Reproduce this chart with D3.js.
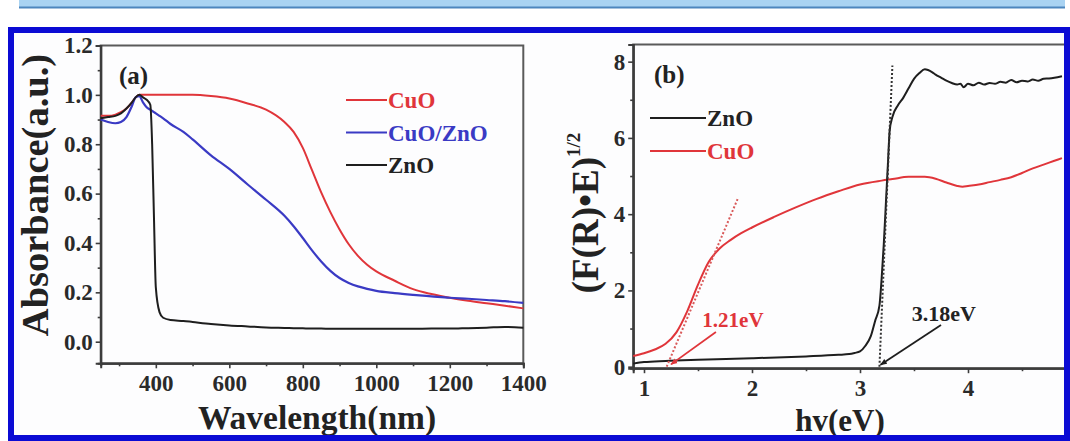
<!DOCTYPE html>
<html>
<head>
<meta charset="utf-8">
<script src="https://cdn.jsdelivr.net/npm/d3@7"></script>
<style>
  html, body { margin: 0; padding: 0; background: #ffffff; }
  svg { display: block; }
  text { font-family: "Liberation Serif", "Times New Roman", serif; font-weight: bold; }
</style>
</head>
<body>
<svg id="fig" width="1070" height="441"></svg>
<script>
// ---------- Panel (a): UV-vis absorbance ----------
const wavelength = [250, 270, 290, 305, 320, 335, 345, 355, 365, 375, 385, 390, 395, 400, 410, 420, 440, 475, 500, 550, 600, 650, 700, 750, 775, 800, 825, 850, 875, 900, 925, 950, 975, 1000, 1050, 1100, 1150, 1200, 1250, 1300, 1350, 1400];
const absCuO = [0.915, 0.915, 0.92, 0.93, 0.945, 0.97, 0.99, 1.0, 1.0, 1.0, 1.0, 1.0, 1.0, 1.0, 1.0, 1.0, 1.0, 1.0, 1.0, 0.995, 0.985, 0.965, 0.94, 0.89, 0.85, 0.785, 0.695, 0.605, 0.525, 0.455, 0.395, 0.348, 0.312, 0.285, 0.247, 0.213, 0.193, 0.178, 0.166, 0.156, 0.146, 0.135];
const absCuOZnO = [0.9, 0.89, 0.885, 0.89, 0.91, 0.955, 0.99, 0.995, 0.97, 0.95, 0.94, 0.935, 0.93, 0.925, 0.915, 0.905, 0.882, 0.85, 0.82, 0.755, 0.7, 0.637, 0.575, 0.51, 0.468, 0.42, 0.37, 0.325, 0.287, 0.258, 0.238, 0.224, 0.214, 0.206, 0.197, 0.19, 0.184, 0.178, 0.174, 0.169, 0.164, 0.157];
const absZnO = [0.905, 0.91, 0.915, 0.925, 0.945, 0.97, 0.99, 1.0, 0.99, 0.98, 0.96, 0.8, 0.5, 0.22, 0.12, 0.097, 0.088, 0.084, 0.08, 0.072, 0.066, 0.062, 0.058, 0.056, 0.055, 0.054, 0.053, 0.053, 0.052, 0.052, 0.052, 0.052, 0.052, 0.052, 0.052, 0.052, 0.053, 0.053, 0.055, 0.057, 0.06, 0.057];
const ticksA_x = [400, 600, 800, 1000, 1200, 1400];
const minorA_x = [300, 500, 700, 900, 1100, 1300];
const ticksA_y = [0.0, 0.2, 0.4, 0.6, 0.8, 1.0, 1.2];
const minorA_y = [0.1, 0.3, 0.5, 0.7, 0.9, 1.1];
const legendA = ["CuO", "CuO/ZnO", "ZnO"];

// ---------- Panel (b): Kubelka-Munk plot ----------
const energyZnO = [0.9, 1.0, 1.2, 1.5, 2.0, 2.5, 2.8, 2.9, 2.95, 3.0, 3.05, 3.1, 3.14, 3.18, 3.2, 3.22, 3.24, 3.26, 3.275, 3.3, 3.35, 3.4, 3.45, 3.5, 3.55, 3.6, 3.63, 3.67, 3.7, 3.75, 3.8, 3.85, 3.9, 3.93, 3.96, 4.0, 4.05, 4.1, 4.15, 4.2, 4.25, 4.3, 4.35, 4.4, 4.45, 4.5, 4.55, 4.6, 4.65, 4.7, 4.75, 4.8, 4.87];
const kmZnO = [0.08, 0.12, 0.15, 0.18, 0.22, 0.27, 0.31, 0.33, 0.36, 0.4, 0.55, 0.8, 1.2, 1.6, 2.3, 3.2, 4.3, 5.4, 6.2, 6.55, 6.85, 7.05, 7.3, 7.55, 7.7, 7.8, 7.78, 7.72, 7.66, 7.58, 7.5, 7.44, 7.4, 7.42, 7.33, 7.42, 7.38, 7.45, 7.4, 7.44, 7.42, 7.47, 7.45, 7.52, 7.46, 7.5, 7.48, 7.53, 7.5, 7.55, 7.56, 7.58, 7.62];
const energyCuO = [0.9, 1.0, 1.1, 1.2, 1.3, 1.4, 1.5, 1.6, 1.7, 1.8, 1.9, 2.0, 2.2, 2.4, 2.6, 2.8, 3.0, 3.2, 3.3, 3.45, 3.6, 3.7, 3.8, 3.9, 3.95, 4.0, 4.1, 4.2, 4.3, 4.4, 4.5, 4.6, 4.7, 4.8, 4.87];
const kmCuO = [0.28, 0.35, 0.45, 0.6, 0.9, 1.45, 2.15, 2.75, 3.1, 3.32, 3.5, 3.65, 3.92, 4.17, 4.4, 4.6, 4.78, 4.88, 4.92, 4.98, 4.98, 4.93, 4.83, 4.74, 4.72, 4.74, 4.78, 4.84, 4.9, 4.97, 5.08, 5.2, 5.3, 5.4, 5.47];
const gapCuO = 1.21;   // eV
const gapZnO = 3.18;   // eV
const tangentCuOEnd = [1.87, 4.42];
const tangentZnOEnd = [3.30, 7.9];
const ticksB_x = [1, 2, 3, 4];
const minorB_x = [1.5, 2.5, 3.5, 4.5];
const ticksB_y = [0, 2, 4, 6, 8];
const minorB_y = [1, 3, 5, 7];
const legendB = ["ZnO", "CuO"];

const RED = "#e0353a", BLUE = "#3a3ac4", BLACK = "#1e1e1e", AXIS = "#3c3c3c";

const svg = d3.select("#fig");

// page decoration: banner strip and frame background
svg.append("rect").attr("x", 19).attr("y", 0).attr("width", 1046).attr("height", 7).attr("fill", "#a9d3f2");
svg.append("line").attr("x1", 19).attr("x2", 1065).attr("y1", 7.5).attr("y2", 7.5).attr("stroke", "#4d86bd").attr("stroke-width", 2);
svg.append("rect").attr("x", 11).attr("y", 30).attr("width", 1056).attr("height", 408).attr("fill", "#fdfdfe");

const defs = svg.append("defs");
function marker(id, color) {
  defs.append("marker").attr("id", id).attr("viewBox", "0 0 10 10").attr("refX", 9).attr("refY", 5)
    .attr("markerWidth", 7).attr("markerHeight", 7).attr("orient", "auto-start-reverse")
    .attr("markerUnits", "userSpaceOnUse")
    .append("path").attr("d", "M0,1 L10,5 L0,9 Z").attr("fill", color);
}
marker("arrRed", RED);
marker("arrBlack", BLACK);
defs.append("clipPath").attr("id", "clipA").append("rect").attr("x", 100).attr("y", 45).attr("width", 424).attr("height", 319);
defs.append("clipPath").attr("id", "clipB").append("rect").attr("x", 633).attr("y", 44).attr("width", 432).attr("height", 325);

function drawAxes(g, x, y, xt, xm, yt, ym, xfmt, yfmt) {
  const [x0, x1] = x.range(), [y0, y1] = y.range();
  g.append("rect").attr("x", x0).attr("y", y1).attr("width", x1 - x0).attr("height", y0 - y1)
    .attr("fill", "none").attr("stroke", "#5a5a5a").attr("stroke-width", 2);
  g.append("g").attr("transform", `translate(0,${y0})`)
    .call(d3.axisBottom(x).tickValues(xt).tickSize(5).tickPadding(6).tickFormat(xfmt));
  g.append("g").attr("transform", `translate(0,${y0})`)
    .call(d3.axisBottom(x).tickValues(xm).tickSize(3).tickFormat(""));
  g.append("g").attr("transform", `translate(${x0},0)`)
    .call(d3.axisLeft(y).tickValues(yt).tickSize(5).tickPadding(3).tickFormat(yfmt));
  g.append("g").attr("transform", `translate(${x0},0)`)
    .call(d3.axisLeft(y).tickValues(ym).tickSize(3).tickFormat(""));
  g.selectAll(".domain").attr("stroke", AXIS).attr("stroke-width", 2);
  g.selectAll(".tick line").attr("stroke", AXIS).attr("stroke-width", 1.6);
  g.selectAll(".tick text").attr("font-family", "Liberation Serif").attr("font-weight", "bold")
    .attr("font-size", 23).attr("fill", "#2a2a2a");
}

// ---------- Panel (a) ----------
const xA = d3.scaleLinear([250, 1400], [100.7, 523.3]);
const yA = d3.scaleLinear([-0.0875, 1.2], [363.3, 45.5]);
const gA = svg.append("g");
drawAxes(gA, xA, yA, ticksA_x, minorA_x, ticksA_y, minorA_y, d3.format("d"), d3.format(".1f"));

const lineA = vals => d3.line().x((d, i) => xA(wavelength[i])).y(d => yA(d)).curve(d3.curveMonotoneX)(vals);
const curvesA = gA.append("g").attr("clip-path", "url(#clipA)");
curvesA.append("path").attr("d", lineA(absCuO)).attr("fill", "none").attr("stroke", RED).attr("stroke-width", 2);
curvesA.append("path").attr("d", lineA(absCuOZnO)).attr("fill", "none").attr("stroke", BLUE).attr("stroke-width", 2.2);
curvesA.append("path").attr("d", lineA(absZnO)).attr("fill", "none").attr("stroke", BLACK).attr("stroke-width", 2);

gA.append("text").attr("x", 119).attr("y", 84).attr("font-size", 25).attr("fill", "#222").text("(a)");
const colorsA = [RED, BLUE, BLACK];
legendA.forEach((name, i) => {
  const yy = 100 + i * 32.5;
  gA.append("line").attr("x1", 346).attr("x2", 387).attr("y1", yy).attr("y2", yy).attr("stroke", colorsA[i]).attr("stroke-width", 2);
  gA.append("text").attr("x", 388).attr("y", yy + 8).attr("font-size", 23).attr("fill", colorsA[i] === BLACK ? "#222" : colorsA[i]).text(name);
});
gA.append("text").attr("transform", "translate(48,195) rotate(-90)").attr("text-anchor", "middle")
  .attr("font-size", 38.5).attr("fill", "#222").text("Absorbance(a.u.)");
gA.append("text").attr("x", 317).attr("y", 429).attr("text-anchor", "middle")
  .attr("font-size", 33.5).attr("fill", "#222").text("Wavelength(nm)");

// ---------- Panel (b) ----------
const xB = d3.scaleLinear([0.9, 4.9], [633.2, 1065.2]);
const yB = d3.scaleLinear([-0.04, 8.45], [368.2, 44.5]);
const gB = svg.append("g");
drawAxes(gB, xB, yB, ticksB_x, minorB_x, ticksB_y, minorB_y, d3.format("d"), d3.format("d"));

const curvesB = gB.append("g").attr("clip-path", "url(#clipB)");
const lineB = (xs, ys, curve) => d3.line().x((d, i) => xB(xs[i])).y(d => yB(d)).curve(curve)(ys);
curvesB.append("path").attr("d", lineB(energyCuO, kmCuO, d3.curveMonotoneX)).attr("fill", "none").attr("stroke", RED).attr("stroke-width", 2);
curvesB.append("path").attr("d", lineB(energyZnO, kmZnO, d3.curveMonotoneX)).attr("fill", "none").attr("stroke", BLACK).attr("stroke-width", 2);

// band-gap tangents
curvesB.append("line").attr("x1", xB(gapCuO)).attr("y1", yB(0)).attr("x2", xB(tangentCuOEnd[0])).attr("y2", yB(tangentCuOEnd[1]))
  .attr("stroke", "#d95a5a").attr("stroke-width", 2).attr("stroke-dasharray", "2,2");
curvesB.append("line").attr("x1", xB(gapZnO)).attr("y1", yB(0)).attr("x2", xB(tangentZnOEnd[0])).attr("y2", yB(tangentZnOEnd[1]))
  .attr("stroke", "#333").attr("stroke-width", 2).attr("stroke-dasharray", "2,2");

// annotations
gB.append("line").attr("x1", xB(1.666)).attr("y1", yB(0.91)).attr("x2", xB(gapCuO + 0.04)).attr("y2", yB(0.06))
  .attr("stroke", RED).attr("stroke-width", 1.8).attr("marker-end", "url(#arrRed)");
gB.append("line").attr("x1", xB(3.75)).attr("y1", yB(1.09)).attr("x2", xB(gapZnO + 0.01)).attr("y2", yB(0.05))
  .attr("stroke", BLACK).attr("stroke-width", 1.8).attr("marker-end", "url(#arrBlack)");
gB.append("text").attr("x", xB(1.54)).attr("y", yB(1.03)).attr("font-size", 21).attr("fill", RED).text(gapCuO.toFixed(2) + "eV");
gB.append("text").attr("x", xB(3.48)).attr("y", yB(1.2)).attr("font-size", 22).attr("fill", "#222").text(gapZnO.toFixed(2) + "eV");

gB.append("text").attr("x", 654).attr("y", 83).attr("font-size", 25).attr("fill", "#222").text("(b)");
const colorsB = [BLACK, RED];
legendB.forEach((name, i) => {
  const yy = 118 + i * 33;
  gB.append("line").attr("x1", 650).attr("x2", 706).attr("y1", yy).attr("y2", yy).attr("stroke", colorsB[i]).attr("stroke-width", 2);
  gB.append("text").attr("x", 707).attr("y", yy + 8).attr("font-size", 23).attr("fill", colorsB[i] === BLACK ? "#222" : colorsB[i]).text(name);
});
const yt = gB.append("text").attr("transform", "translate(598,213) rotate(-90)").attr("text-anchor", "middle")
  .attr("font-size", 37).attr("fill", "#222");
yt.append("tspan").text("(F(R)•E)");
yt.append("tspan").attr("font-size", 19).attr("dy", -18).text("1/2");
gB.append("text").attr("x", 840).attr("y", 431).attr("text-anchor", "middle")
  .attr("font-size", 31).attr("fill", "#222").text("hv(eV)");

// blue frame drawn on top
svg.append("rect").attr("x", 11).attr("y", 30).attr("width", 1056).attr("height", 408)
  .attr("fill", "none").attr("stroke", "#0b0bd4").attr("stroke-width", 6);
</script>
</body>
</html>
